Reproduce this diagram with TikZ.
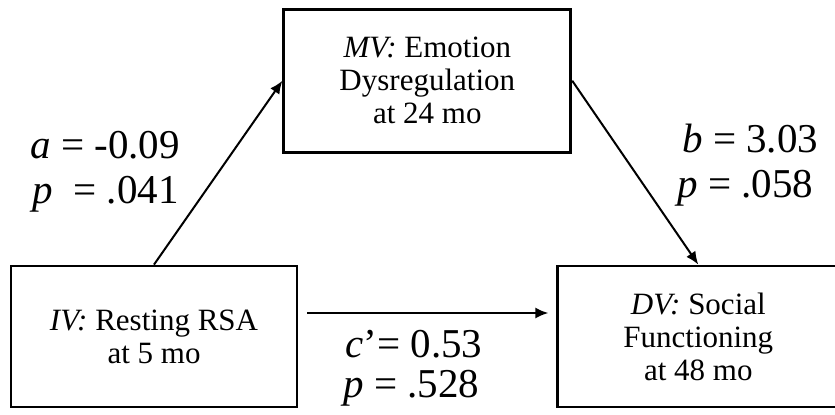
\documentclass[tikz,border=0pt]{standalone}
\usepackage{fontspec}
\setmainfont{Liberation Serif}
\usetikzlibrary{arrows.meta,positioning}
\tikzset{
  box/.style={draw=black,line width=1.4pt,align=center,inner sep=0pt,minimum height=70.5pt,font=\fontsize{15.5}{16.5}\selectfont},
  arr/.style={-{Latex[length=6.5pt,width=5.5pt]},line width=1pt,draw=black},
  lbl/.style={anchor=base west,inner sep=0pt,font=\fontsize{20.5}{23}\selectfont},
}
\begin{document}
\begin{tikzpicture}
  \useasboundingbox (0,0) rectangle (417.5pt,-207pt);
  \node[box,minimum width=143pt] (iv) at (77pt,-168.25pt) {\textit{IV:} Resting RSA\\at 5 mo};
  \node[box,minimum width=143.5pt,minimum height=71.5pt,above right=55.5pt and -8pt of iv] (mv) {\textit{MV:} Emotion\\Dysregulation\\at 24 mo};
  \node[box,minimum width=140.5pt,right=129pt of iv] (dv) {\textit{DV:} Social\\Functioning\\at 48 mo};
  \draw[arr] (iv.north) -- (mv.west);
  \draw[arr] (mv.east) -- (dv.north);
  \draw[arr] ([xshift=4.5pt,yshift=11.75pt]iv.east) -- ([xshift=-4pt,yshift=11.75pt]dv.west);
  \node[lbl] (aval) at (15pt,-79pt) {\textit{a} = -0.09};
  \node[lbl] (apval) at (16pt,-101.5pt) {\textit{p}\ \ = .041};
  \node[lbl] (bval) at (341pt,-76pt) {\textit{b} = 3.03};
  \node[lbl] (bpval) at (338.5pt,-98.5pt) {\textit{p} = .058};
  \node[lbl] (cval) at (172.5pt,-178.5pt) {\textit{c}’= 0.53};
  \node[lbl] (cpval) at (171.5pt,-198.5pt) {\textit{p} = .528};
\end{tikzpicture}
\end{document}
